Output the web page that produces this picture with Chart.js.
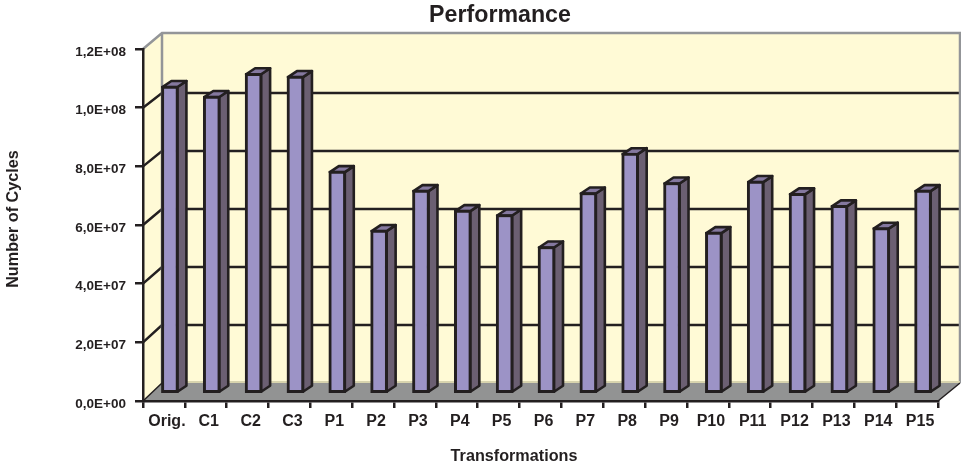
<!DOCTYPE html>
<html>
<head>
<meta charset="utf-8">
<title>Performance</title>
<script src="https://cdn.jsdelivr.net/npm/chart.js@4"></script>
<style>
  html, body { margin: 0; padding: 0; background: #fff; }
  #wrap { position: relative; width: 961px; height: 469px; }
</style>
</head>
<body>
<div id="wrap"><canvas id="myChart"></canvas></div>
<script>
const categories = ["Orig.", "C1", "C2", "C3", "P1", "P2", "P3", "P4", "P5", "P6", "P7", "P8", "P9", "P10", "P11", "P12", "P13", "P14", "P15"];
const cycles = [1.05e8, 1.016e8, 1.0935e8, 1.084e8, 7.6e7, 5.59e7, 6.95e7, 6.27e7, 6.12e7, 5.03e7, 6.87e7, 8.21e7, 7.21e7, 5.52e7, 7.26e7, 6.84e7, 6.43e7, 5.67e7, 6.95e7];
const yTickLabels = ["0,0E+00", "2,0E+07", "4,0E+07", "6,0E+07", "8,0E+07", "1,0E+08", "1,2E+08"];
const chartTitle = "Performance";
const xTitle = "Transformations";
const yTitle = "Number of Cycles";

const COLORS = {
  ink: '#231f20',
  wall: '#fffad6',
  wallEdge: '#939598',
  floor: '#929393',
  floorBack: '#d8d4ae',
  front: '#9c93c6',
  side: '#6b5f72',
  top: '#84789f'
};

const FONT = '"Liberation Sans", Arial, sans-serif';

// how far the back wall sits behind the axes
const WALL_DX = 19, WALL_DY = 18;
// bars stand part way into the floor
const BAR_DX = 6, BAR_DY = 7;
// extruded depth of each bar
const DEPTH_X = 9, DEPTH_Y = 6;

function poly(ctx, pts, fill, stroke, lw) {
  ctx.beginPath();
  pts.forEach((p, i) => i ? ctx.lineTo(p[0], p[1]) : ctx.moveTo(p[0], p[1]));
  ctx.closePath();
  if (fill) { ctx.fillStyle = fill; ctx.fill(); }
  if (stroke) { ctx.strokeStyle = stroke; ctx.lineWidth = lw; ctx.lineJoin = 'round'; ctx.stroke(); }
}

const box3d = {
  id: 'box3d',
  // walls, floor and gridlines go under the axes
  beforeDraw(chart) {
    const { ctx, chartArea: a, scales: { y } } = chart;
    const L = a.left, R = a.right, T = a.top, B = a.bottom;
    const backL = L + WALL_DX, backR = R + WALL_DX + 3, backB = B - WALL_DY, backT = T - WALL_DY + 2;
    ctx.save();
    poly(ctx, [[backL, backT], [backR, backT], [backR, backB], [backL, backB]], COLORS.wall);
    poly(ctx, [[L, T], [backL, backT], [backL, backB], [L, B]], COLORS.wall);

    // gridlines on the side wall and the back wall
    y.ticks.forEach(t => {
      if (t.value === 0 || t.value === y.max) return;
      const front = y.getPixelForValue(t.value);
      const back = backB - (B - front) * (backB - backT - 2) / (B - T);
      ctx.beginPath();
      ctx.moveTo(L, front);
      ctx.lineTo(backL, back);
      ctx.lineTo(backR, back);
      ctx.strokeStyle = COLORS.ink;
      ctx.lineWidth = 2.5;
      ctx.stroke();
    });

    ctx.beginPath();
    ctx.moveTo(L, T);
    ctx.lineTo(backL, backT);
    ctx.lineTo(backR, backT);
    ctx.lineTo(backR, backB);
    ctx.moveTo(backL, backT);
    ctx.lineTo(backL, backB);
    ctx.strokeStyle = COLORS.wallEdge;
    ctx.lineWidth = 2.5;
    ctx.stroke();

    // floor
    poly(ctx, [[L, B], [backL, backB], [backR, backB], [R, B]], COLORS.floor);
    ctx.beginPath();
    ctx.moveTo(backL, backB - 1);
    ctx.lineTo(backR, backB - 1);
    ctx.strokeStyle = COLORS.floorBack;
    ctx.lineWidth = 2;
    ctx.stroke();
    ctx.beginPath();
    ctx.moveTo(L, B);
    ctx.lineTo(backL, backB);
    ctx.moveTo(R, B);
    ctx.lineTo(backR, backB);
    ctx.strokeStyle = COLORS.ink;
    ctx.lineWidth = 1.5;
    ctx.stroke();
    ctx.restore();
  },
  // side and top faces, then the library draws the fronts at the same shift
  beforeDatasetsDraw(chart) {
    const ctx = chart.ctx;
    ctx.save();
    ctx.translate(BAR_DX, -BAR_DY);
    chart.getDatasetMeta(0).data.forEach(bar => {
      const l = bar.x - bar.width / 2 + 1, r = bar.x + bar.width / 2 - 1;
      const t = bar.y + 1, b = bar.base - 1;
      poly(ctx, [[r, t], [r + DEPTH_X, t - DEPTH_Y], [r + DEPTH_X, b - DEPTH_Y], [r, b]], COLORS.side, COLORS.ink, 2.6);
      poly(ctx, [[l, t], [l + DEPTH_X, t - DEPTH_Y], [r + DEPTH_X, t - DEPTH_Y], [r, t]], COLORS.top, COLORS.ink, 2.6);
    });
  },
  afterDatasetsDraw(chart) {
    chart.ctx.restore();
  },
  // axis titles
  afterDraw(chart) {
    const ctx = chart.ctx;
    ctx.save();
    ctx.fillStyle = COLORS.ink;
    ctx.textAlign = 'center';
    ctx.textBaseline = 'middle';
    ctx.font = 'bold 16.2px ' + FONT;
    ctx.fillText(xTitle, 514, 457);
    ctx.translate(14, 219);
    ctx.rotate(-Math.PI / 2);
    ctx.fillText(yTitle, 0, 0);
    ctx.restore();
  }
};

Chart.defaults.font.family = FONT;
Chart.defaults.color = COLORS.ink;

new Chart(document.getElementById('myChart'), {
  type: 'bar',
  data: {
    labels: categories,
    datasets: [{
      label: 'Cycles',
      data: cycles,
      backgroundColor: COLORS.front,
      borderColor: COLORS.ink,
      borderWidth: 3,
      borderSkipped: false,
      barThickness: 17
    }]
  },
  options: {
    responsive: true,
    maintainAspectRatio: false,
    animation: false,
    layout: { padding: { left: 62, right: 23, top: 0, bottom: 0 } },
    plugins: {
      legend: { display: false },
      tooltip: { enabled: false },
      title: {
        display: true,
        text: chartTitle,
        color: COLORS.ink,
        font: { size: 23.2, weight: 'bold', lineHeight: 1.2 },
        padding: { top: 1.5, bottom: 19.7 }
      }
    },
    scales: {
      x: {
        afterFit(axis) { axis.height = 68; },
        grid: { drawOnChartArea: false, color: COLORS.ink, lineWidth: 2.5, tickLength: 7, offset: true },
        border: { color: COLORS.ink, width: 2.5 },
        ticks: { font: { size: 16, weight: 'bold' }, padding: 4, maxRotation: 0, autoSkip: false, labelOffset: 3 }
      },
      y: {
        min: 0,
        max: 1.2e8,
        afterFit(axis) { axis.width = 81; },
        grid: { drawOnChartArea: false, color: COLORS.ink, lineWidth: 2.5, tickLength: 8 },
        border: { color: COLORS.ink, width: 2.5 },
        ticks: {
          stepSize: 2e7,
          padding: 9,
          labelOffset: 3,
          font: { size: 13.5, weight: 'bold' },
          callback: (v, i) => yTickLabels[i]
        }
      }
    }
  },
  plugins: [box3d]
});
</script>
</body>
</html>
